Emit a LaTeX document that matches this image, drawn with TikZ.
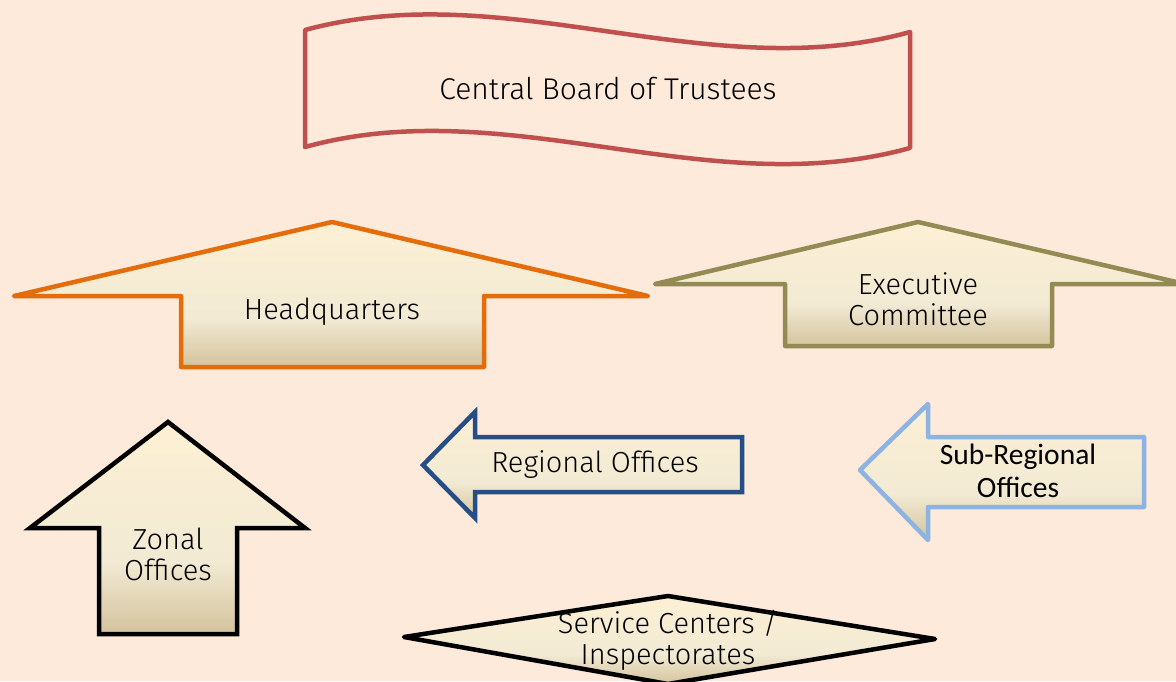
\documentclass[tikz,border=0pt]{standalone}
\usepackage{fontspec}
\setmainfont{Fira Sans Light}
\newfontfamily\calib{Carlito}
\definecolor{bgc}{HTML}{FDEADA}
\definecolor{creamc}{HTML}{FDF0D4}
\definecolor{midc}{HTML}{F2EAD4}
\definecolor{tanc}{HTML}{D4C39D}
\definecolor{redc}{HTML}{C0504D}
\definecolor{orangec}{HTML}{E46C0A}
\definecolor{olivec}{HTML}{948A54}
\definecolor{navyc}{HTML}{254E87}
\definecolor{lbluec}{HTML}{8DB3E2}
\pgfdeclareverticalshading{boxshade}{100bp}{color(0bp)=(tanc); color(25bp)=(tanc); color(42bp)=(midc); color(75bp)=(creamc); color(100bp)=(creamc)}
\begin{document}
\begin{tikzpicture}[x=1pt,y=-1pt,
  shapebox/.style={line width=4.5pt, line join=miter, shading=boxshade},
  lbl/.style={font=\fontsize{29}{31}\selectfont, align=center, text=black, inner sep=0pt},
  clbl/.style={font=\calib\fontsize{29.5}{33}\selectfont, align=center, text=black, inner sep=0pt}]
\fill[bgc] (0,0) rectangle (1176,681);
\clip (0,0) rectangle (1176,681);
% banner
\draw[redc, line width=4.5pt, line join=round, fill=bgc]
  (305,30) .. controls (507,-25) and (708,88) .. (910,32)
  -- (910,148) .. controls (708,204) and (507,91) .. (305,147) -- cycle;
\node[lbl, font=\fontsize{30}{31}\selectfont] (cbt) at (608,89) {Central Board of Trustees};
% headquarters
\draw[orangec, shapebox, line join=round] (332,222) -- (648,296) -- (484,296) -- (484,367) -- (181,367) -- (181,296) -- (14,296) -- cycle;
\node[lbl] (hq) at (332,312) {Headquarters};
% executive committee
\draw[olivec, shapebox, line join=round] (918,222) -- (1185,284) -- (1052,284) -- (1052,346) -- (785,346) -- (785,284) -- (655,284) -- cycle;
\node[lbl] (ec) at (918,299) {Executive\\Committee};
% zonal offices
\draw[black, shapebox] (168,422) -- (305,528) -- (237,528) -- (237,634) -- (99,634) -- (99,528) -- (30,528) -- cycle;
\node[lbl] (zo) at (168,554) {Zonal\\Offices};
% regional offices
\draw[navyc, shapebox] (423,465) -- (475,412) -- (475,437) -- (742,437) -- (742,492) -- (475,492) -- (475,518) -- cycle;
\node[lbl] (ro) at (595,465) {Regional Offices};
% sub-regional offices
\draw[lbluec, shapebox, line join=round] (860,470) -- (928,404) -- (928,437) -- (1144,437) -- (1144,507) -- (928,507) -- (928,540) -- cycle;
\node[clbl] (sro) at (1018,471) {Sub-Regional\\Offices};
% service centers
\draw[black, shapebox, line join=round] (404,637) -- (668,596) -- (935,639) -- (668,684) -- cycle;
\node[lbl] (sc) at (668,640) {Service Centers /\\Inspectorates};
\end{tikzpicture}
\end{document}
